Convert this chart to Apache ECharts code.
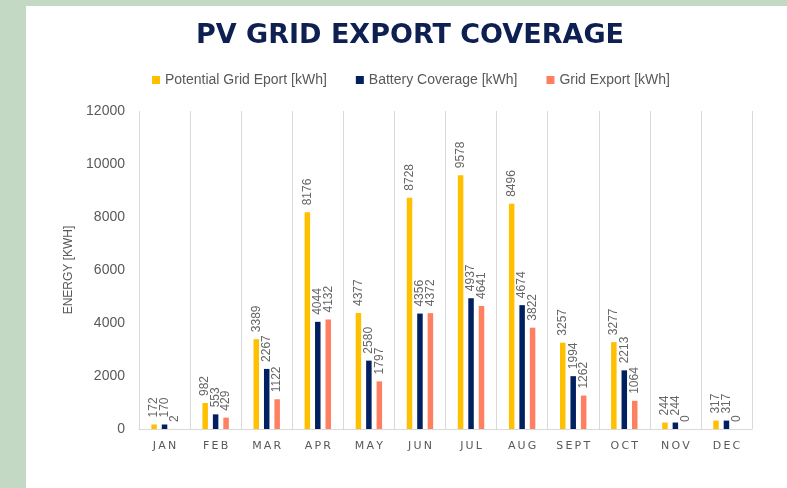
<!DOCTYPE html>
<html>
<head>
<meta charset="utf-8">
<script src="https://cdn.jsdelivr.net/npm/echarts@6/dist/echarts.min.js"></script>
<style>
html,body{margin:0;padding:0;background:#c4d9c3;}
#chart{width:787px;height:488px;}
</style>
</head>
<body>
<div id="chart"></div>
<script>
const months = ['JAN','FEB','MAR','APR','MAY','JUN','JUL','AUG','SEPT','OCT','NOV','DEC'];
const potentialGridExport = [172, 982, 3389, 8176, 4377, 8728, 9578, 8496, 3257, 3277, 244, 317];
const batteryCoverage = [170, 553, 2267, 4044, 2580, 4356, 4937, 4674, 1994, 2213, 244, 317];
const gridExport = [2, 429, 1122, 4132, 1797, 4372, 4641, 3822, 1262, 1064, 0, 0];
const yTicks = [0, 2000, 4000, 6000, 8000, 10000, 12000];

const spaced = s => s.split('').join('\u2009');
const chart = echarts.init(document.getElementById('chart'));
const labelCfg = {
  show: true, position: 'top', rotate: 90, align: 'left', verticalAlign: 'middle',
  distance: 7, color: '#666', fontSize: 12, fontFamily: 'Liberation Sans Narrow, Liberation Sans, sans-serif'
};
function bar(name, data, color){
  return {name, type:'bar', data, barWidth:5.5, barGap:'90%', itemStyle:{color}, label:labelCfg};
}
chart.setOption({
  backgroundColor: 'transparent',
  graphic: [{type:'rect', shape:{x:26, y:6, width:761, height:482}, style:{fill:'#fff'}, z:-10}],
  title: {
    text: 'PV GRID EXPORT COVERAGE', left: 405, textAlign: 'center', top: 17,
    textStyle: {color:'#0e1f52', fontSize:27, fontWeight:'bold', fontFamily:'DejaVu Sans'}
  },
  legend: {
    top: 68, left: 147, itemWidth: 8, itemHeight: 8, itemGap: 29, icon: 'rect',
    textStyle: {color:'#595959', fontSize:14, fontFamily:'Liberation Sans Narrow, sans-serif'},
    data: ['Potential Grid Eport [kWh]','Battery Coverage [kWh]','Grid Export [kWh]']
  },
  grid: {left:139, right:35, top:111, bottom:59},
  xAxis: {
    type:'category', data: months.map(spaced),
    axisLine:{lineStyle:{color:'#d9d9d9'}}, axisTick:{show:false},
    axisLabel:{color:'#595959', fontSize:11, margin:12, fontFamily:'DejaVu Sans'},
    splitLine:{show:true, lineStyle:{color:'#d9d9d9'}}
  },
  yAxis: {
    type:'value', min:0, max:12000, interval:2000,
    name:'ENERGY [KWH]', nameLocation:'middle', nameGap:60,
    nameTextStyle:{color:'#595959', fontSize:12, fontFamily:'Liberation Sans Narrow, sans-serif'},
    axisLabel:{color:'#595959', fontSize:14, margin:14, fontFamily:'Liberation Sans Narrow, sans-serif',
      formatter: v => yTicks.includes(v) ? String(v) : ''},
    axisLine:{show:false}, axisTick:{show:false}, splitLine:{show:false}
  },
  series: [
    bar('Potential Grid Eport [kWh]', potentialGridExport, '#ffc000'),
    bar('Battery Coverage [kWh]', batteryCoverage, '#002060'),
    bar('Grid Export [kWh]', gridExport, '#ff7f61')
  ]
});
</script>
</body>
</html>
